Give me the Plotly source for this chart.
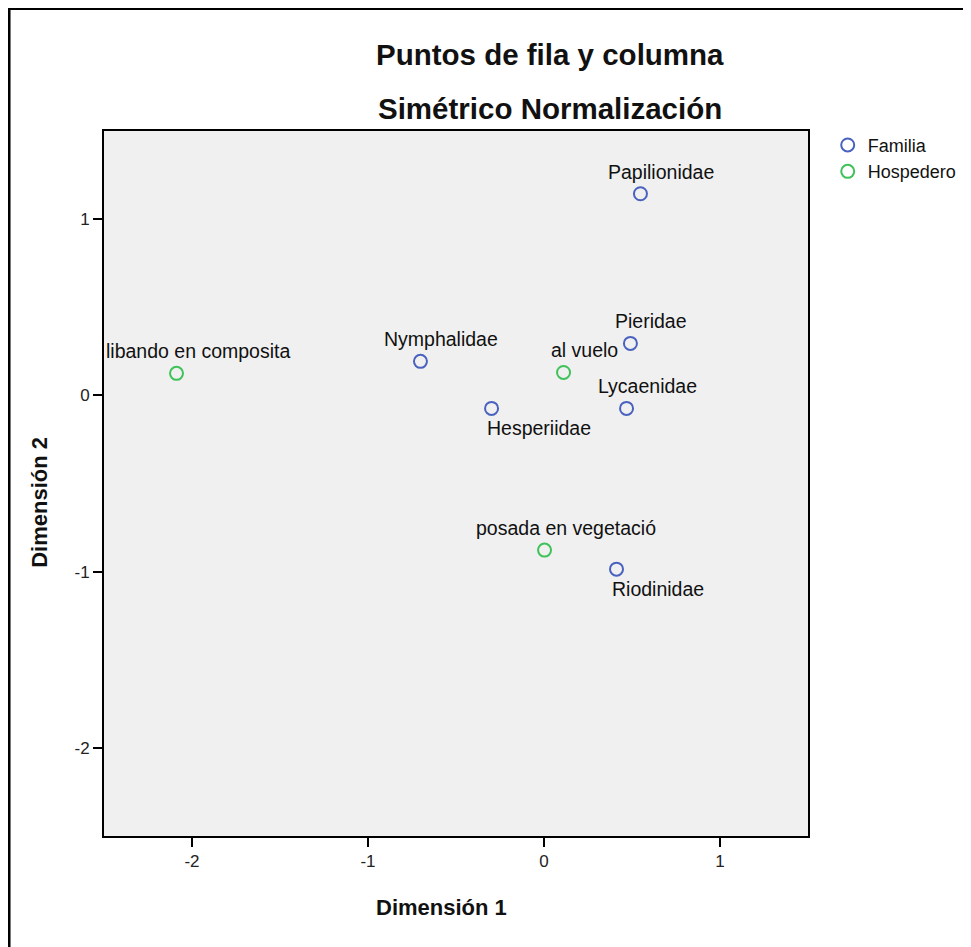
import plotly.graph_objects as go

# row points (Familia)
familia = ['Papilionidae', 'Pieridae', 'Lycaenidae', 'Nymphalidae', 'Hesperiidae', 'Riodinidae']
familia_x = [0.548, 0.491, 0.469, -0.702, -0.298, 0.412]
familia_y = [1.144, 0.295, -0.074, 0.193, -0.074, -0.986]

# column points (Hospedero)
hospedero = ['libando en composita', 'al vuelo', 'posada en vegetació']
hospedero_x = [-2.088, 0.111, 0.003]
hospedero_y = [0.125, 0.130, -0.878]

x_ticks = [-2, -1, 0, 1]
x_tick_text = ['-2', '-1', '0', '1']
y_ticks = [-2, -1, 0, 1]
y_tick_text = ['-2', '-1', '0', '1']

# labels drawn under the point instead of above
below = {'Hesperiidae', 'Riodinidae'}

BLUE = '#4a62bf'
GREEN = '#3fc25a'
FONT = 'Liberation Sans, Arial, sans-serif'

fig = go.Figure()
fig.add_trace(go.Scatter(x=familia_x, y=familia_y, mode='markers', name='Familia',
                         marker=dict(symbol='circle-open', size=13, color=BLUE, line=dict(width=2))))
fig.add_trace(go.Scatter(x=hospedero_x, y=hospedero_y, mode='markers', name='Hospedero',
                         marker=dict(symbol='circle-open', size=13, color=GREEN, line=dict(width=2))))

annotations = []
for names, xs, ys in [(familia, familia_x, familia_y), (hospedero, hospedero_x, hospedero_y)]:
    for n, x, y in zip(names, xs, ys):
        if n in below:
            a = dict(xanchor='left', xshift=-7, yshift=-20)
        else:
            a = dict(xanchor='center', xshift=21, yshift=22)
        annotations.append(dict(x=x, y=y, xref='x', yref='y', text=n, showarrow=False,
                                yanchor='middle', font=dict(size=19.5, color='#111'), **a))

# titles
annotations += [
    dict(x=0.6335, y=1.108, xref='paper', yref='paper', text='<b>Puntos de fila y columna</b>',
         showarrow=False, xanchor='center', yanchor='middle', font=dict(size=29.5, color='#111')),
    dict(x=0.6335, y=1.0326, xref='paper', yref='paper', text='<b>Simétrico Normalización</b>',
         showarrow=False, xanchor='center', yanchor='middle', font=dict(size=29.5, color='#111')),
    dict(x=0.48, y=-0.102, xref='paper', yref='paper', text='<b>Dimensión 1</b>',
         showarrow=False, xanchor='center', yanchor='middle', font=dict(size=22, color='#111')),
    dict(x=-0.091, y=0.474, xref='paper', yref='paper', text='<b>Dimensión 2</b>', textangle=-90,
         showarrow=False, xanchor='center', yanchor='middle', font=dict(size=22, color='#111')),
]

axis = dict(showgrid=False, zeroline=False, showline=True, linecolor='black', linewidth=2,
            mirror=True, ticks='outside', ticklen=9, tickwidth=2, tickcolor='black',
            tickfont=dict(size=17, color='#222'))

fig.update_layout(
    width=971, height=947,
    margin=dict(l=96, r=171, t=123, b=119),
    paper_bgcolor='white', plot_bgcolor='#f0f0f0',
    font=dict(family=FONT),
    xaxis=dict(range=[-2.5, 1.5], tickvals=x_ticks, ticktext=x_tick_text, **axis),
    yaxis=dict(range=[-2.5, 1.5], tickvals=y_ticks, ticktext=y_tick_text, **axis),
    showlegend=True,
    legend=dict(x=1.028, y=1.006, xanchor='left', yanchor='top', bgcolor='rgba(0,0,0,0)',
                font=dict(size=18, color='#111'), tracegroupgap=0, itemwidth=30),
    annotations=annotations,
    shapes=[dict(type='rect', xref='paper', yref='paper', x0=-0.1349, x1=1.6, y0=-0.3, y1=1.1738,
                 line=dict(color='black', width=3), layer='below')],
)

fig.write_html('out.html')
